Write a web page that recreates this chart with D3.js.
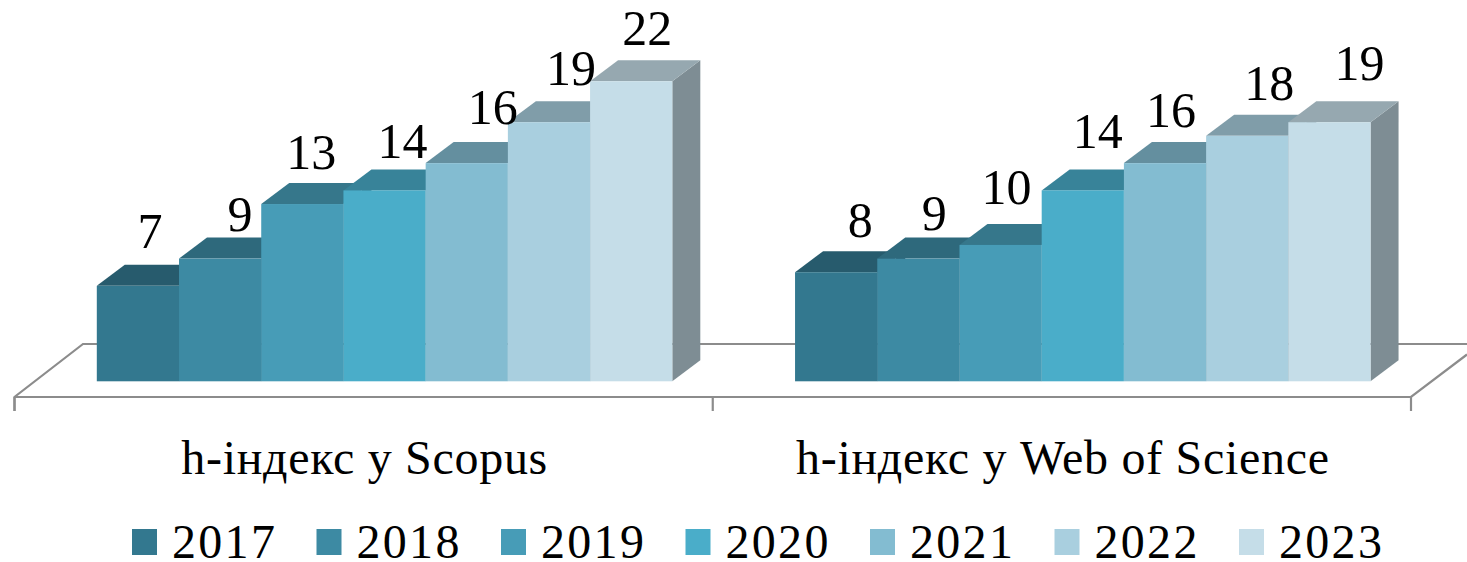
<!DOCTYPE html>
<html><head><meta charset="utf-8">
<script src="https://cdn.jsdelivr.net/npm/d3@7/dist/d3.min.js"></script>
<style>html,body{margin:0;padding:0;background:#fff;overflow:hidden}svg{display:block}
text{font-family:"Liberation Serif",serif;fill:#000}</style></head><body>
<script>
const categories = ["h-індекс у Scopus", "h-індекс у Web of Science"];
const years = ["2017","2018","2019","2020","2021","2022","2023"];
const scopus = [7, 9, 13, 14, 16, 19, 22];
const webOfScience = [8, 9, 10, 14, 16, 18, 19];
const seriesByCategory = [scopus, webOfScience];
const colors = ["#33788f","#3d8aa3","#479cb7","#4aadc9","#83bcd1","#a9cfdf","#c5dde8"];

// hand-placed label offsets seen in the source chart, [dx, dy] from the default spot
const labelNudge = [
  [[-2,-2],[6,8],[-5,1],[4,4],[12,-3],[8,-1],[2,0]],
  [[10,1],[2,7],[-8,-5],[1,-6],[-8,0],[8,0],[16,-6]]
];

const W=1467,H=562, depthX=28, depthY=21;
const svg=d3.select("body").append("svg").attr("width",W).attr("height",H);
const x0=d3.scaleBand().domain(categories).range([14.5,1411]);
const x1=d3.scaleBand().domain(years).range([82.3,657.8]);
const y=d3.scaleLinear().domain([0,22]).range([381.3,81.3]);
const floorBack=344, floorFront=397, grey="#8c8c8c";

const floor=svg.append("g").attr("fill","none").attr("stroke",grey).attr("stroke-width",2.2);
floor.append("path").attr("d",`M14.5,411V${floorFront}L83,${floorBack}H${W}`);
floor.append("path").attr("d",`M14.5,${floorFront}H1411L${W},${floorFront-42.5}`);
x0.domain().concat([null]).forEach((c,i)=>{
  const px=c===null?x0.range()[1]:x0(c);
  floor.append("line").attr("x1",px).attr("x2",px).attr("y1",floorFront).attr("y2",411);
});

categories.forEach((cat,ci)=>{
  const g=svg.append("g").attr("transform",`translate(${x0(cat)},0)`);
  const vals=seriesByCategory[ci];
  const bars=g.selectAll("g.bar").data(vals).join("g").attr("class","bar");
  bars.each(function(v,i){
    const s=d3.select(this), l=x1(years[i]), r=l+x1.bandwidth(), t=y(v), b=y(0), c=d3.color(colors[i]);
    const dark=(k)=>d3.rgb(c.r*k,c.g*k,c.b*k);
    s.append("path").attr("fill",dark(0.64)).attr("d",`M${r},${t}L${r+depthX},${t-depthY}V${b-depthY}L${r},${b}Z`);
    s.append("path").attr("fill",dark(0.76)).attr("d",`M${l},${t}L${l+depthX},${t-depthY}H${r+depthX}L${r},${t}Z`);
    s.append("rect").attr("x",l).attr("y",t).attr("width",x1.bandwidth()).attr("height",b-t).attr("fill",colors[i]);
  });
  g.selectAll("text.v").data(vals).join("text").attr("class","v")
    .attr("text-anchor","middle").attr("font-size",50)
    .attr("x",(v,i)=>x1(years[i])+x1.bandwidth()/2+depthX/2+labelNudge[ci][i][0])
    .attr("y",(v,i)=>y(v)-depthY-15+labelNudge[ci][i][1])
    .text(v=>v);
  svg.append("text").attr("text-anchor","middle").attr("font-size",48).attr("letter-spacing",0.7)
    .attr("x",x0(cat)+x0.bandwidth()/2+1).attr("y",474).text(cat);
});

const legendX=d3.scalePoint().domain(years).range([132,1239]);
const lg=svg.selectAll("g.l").data(years).join("g").attr("class","l").attr("transform",d=>`translate(${legendX(d)},0)`);
lg.append("rect").attr("y",529).attr("width",25).attr("height",26).attr("fill",(d,i)=>colors[i]);
lg.append("text").attr("x",40).attr("y",558).attr("font-size",48).attr("letter-spacing",2.3).text(d=>d);
</script></body></html>
